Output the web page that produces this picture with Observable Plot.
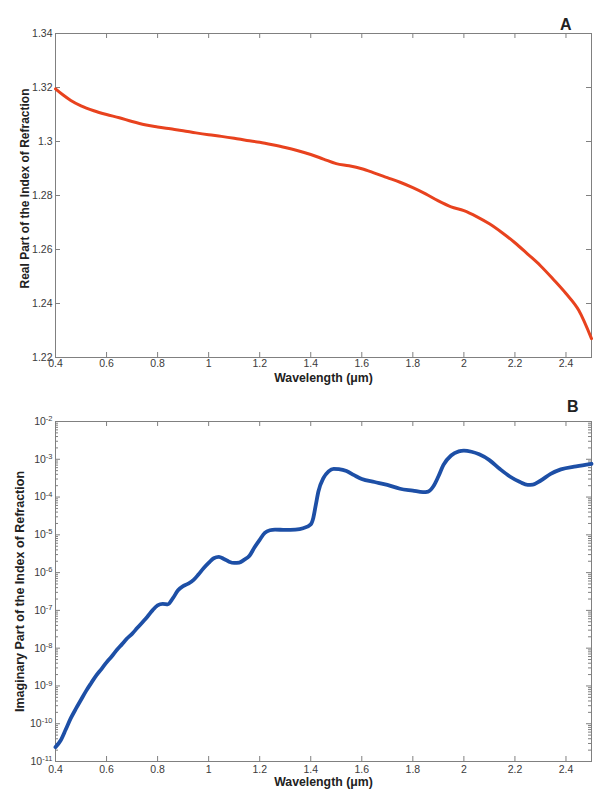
<!DOCTYPE html>
<html>
<head>
<meta charset="utf-8">
<script src="https://cdn.jsdelivr.net/npm/d3@7"></script>
<script src="https://cdn.jsdelivr.net/npm/@observablehq/plot@0.6"></script>
<style>
  html, body { margin: 0; padding: 0; background: #fff; }
  #chart { width: 594px; height: 792px; }
  #chart svg { display: block; }
</style>
</head>
<body>
<div id="chart"></div>
<script>
// ---------- Data ----------
const wavelengthA = [0.40,0.43,0.46,0.50,0.55,0.60,0.65,0.70,0.75,0.80,0.85,0.90,0.95,1.00,1.05,1.10,1.15,1.20,1.25,1.30,1.35,1.40,1.45,1.50,1.55,1.60,1.65,1.70,1.75,1.80,1.85,1.90,1.95,2.00,2.05,2.10,2.15,2.20,2.25,2.30,2.35,2.40,2.45,2.50];
const realIndex = [1.3195,1.3172,1.3152,1.3132,1.3114,1.3100,1.3088,1.3074,1.3062,1.3054,1.3047,1.3040,1.3032,1.3025,1.3019,1.3012,1.3004,1.2997,1.2988,1.2978,1.2966,1.2952,1.2935,1.2918,1.2910,1.2899,1.2883,1.2866,1.2849,1.2829,1.2806,1.2780,1.2758,1.2744,1.2722,1.2695,1.2662,1.2625,1.2583,1.2540,1.2490,1.2437,1.2375,1.2270];

const wavelengthB = [0.400,0.420,0.440,0.460,0.480,0.500,0.520,0.540,0.560,0.580,0.600,0.620,0.640,0.660,0.680,0.700,0.720,0.740,0.760,0.780,0.800,0.820,0.840,0.860,0.880,0.900,0.920,0.940,0.960,0.980,1.000,1.020,1.040,1.060,1.080,1.100,1.120,1.140,1.160,1.180,1.200,1.220,1.240,1.260,1.300,1.340,1.370,1.400,1.410,1.420,1.430,1.450,1.470,1.490,1.510,1.540,1.570,1.600,1.650,1.700,1.750,1.800,1.840,1.860,1.880,1.900,1.920,1.950,1.980,2.000,2.030,2.060,2.100,2.140,2.180,2.220,2.250,2.270,2.300,2.340,2.380,2.440,2.500];
const imagIndex = [2.4e-11,3.6e-11,7e-11,1.4e-10,2.5e-10,4.3e-10,7.4e-10,1.2e-9,1.9e-9,2.8e-9,4.2e-9,6e-9,8.9e-9,1.26e-8,1.8e-8,2.4e-8,3.4e-8,4.8e-8,6.8e-8,1e-7,1.35e-7,1.48e-7,1.45e-7,2.1e-7,3.4e-7,4.4e-7,5.1e-7,6.3e-7,8.9e-7,1.3e-6,1.8e-6,2.4e-6,2.6e-6,2.3e-6,1.95e-6,1.8e-6,1.85e-6,2.2e-6,2.8e-6,4.7e-6,7.4e-6,1.12e-5,1.32e-5,1.38e-5,1.35e-5,1.38e-5,1.5e-5,1.9e-5,2.8e-5,6.3e-5,1.4e-4,3.2e-4,4.8e-4,5.6e-4,5.5e-4,4.9e-4,3.8e-4,3.0e-4,2.5e-4,2.1e-4,1.66e-4,1.48e-4,1.35e-4,1.4e-4,1.9e-4,3.5e-4,7.1e-4,1.26e-3,1.62e-3,1.7e-3,1.58e-3,1.35e-3,9.5e-4,5.6e-4,3.5e-4,2.5e-4,2.1e-4,2.14e-4,2.7e-4,4.1e-4,5.4e-4,6.5e-4,7.6e-4];

const xTicks = [0.4,0.6,0.8,1.0,1.2,1.4,1.6,1.8,2.0,2.2,2.4];
const yTicksA = [1.22,1.24,1.26,1.28,1.30,1.32,1.34];
const decadeExponents = [-11,-10,-9,-8,-7,-6,-5,-4,-3,-2];
const minorMultipliers = [2,3,4,5,6,7,8,9];

const xLabel = "Wavelength (\u03bcm)";
const yLabelA = "Real Part of the Index of Refraction";
const yLabelB = "Imaginary Part of the Index of Refraction";

// ---------- Shared style ----------
const W = 594;
const frameColor = "#808080";
const tickTextColor = "#3a3a3a";
const font = "'Liberation Sans', Arial, Helvetica, sans-serif";
const fmtX = d => String(+d.toFixed(1));

const dataA = wavelengthA.map((w, i) => ({w, n: realIndex[i]}));
const dataB = wavelengthB.map((w, i) => ({w, k: imagIndex[i]}));

const container = document.getElementById("chart");

// ---------- Panel A ----------
{
  const H = 390, mt = 33, mb = 33, ml = 55, mr = 3;
  const ph = H - mt - mb, pw = W - ml - mr;
  const plot = Plot.plot({
    width: W, height: H,
    marginTop: mt, marginBottom: mb, marginLeft: ml, marginRight: mr,
    style: {fontFamily: font, fontSize: "10.5px", background: "#fff", overflow: "visible"},
    x: {domain: [0.4, 2.5]},
    y: {domain: [1.22, 1.34]},
    marks: [
      Plot.frame({stroke: frameColor}),
      Plot.tickX(xTicks, {x: d => d, insetTop: ph - 5, stroke: frameColor}),
      Plot.tickX(xTicks, {x: d => d, insetBottom: ph - 5, stroke: frameColor}),
      Plot.tickY(yTicksA, {y: d => d, insetRight: pw - 5, stroke: frameColor}),
      Plot.tickY(yTicksA, {y: d => d, insetLeft: pw - 5, stroke: frameColor}),
      Plot.axisX({ticks: xTicks, tickSize: 0, tickPadding: 2, tickFormat: fmtX, label: null, color: tickTextColor}),
      Plot.axisY({ticks: yTicksA, tickSize: 0, tickPadding: 3, tickFormat: d => String(+d.toFixed(2)), label: null, color: tickTextColor}),
      Plot.line(dataA, {x: "w", y: "n", stroke: "#e8421e", strokeWidth: 3, curve: "monotone-x"}),
      Plot.text([xLabel], {frameAnchor: "bottom", dy: 24, fontWeight: "bold", fontSize: 12.3, fill: "#222"}),
      Plot.text([yLabelA], {frameAnchor: "left", textAnchor: "middle", dx: -30, dy: -7, rotate: -90, fontWeight: "bold", fontSize: 12, fill: "#222"}),
      Plot.text(["A"], {frameAnchor: "top-right", dx: -20, dy: -15, fontWeight: "bold", fontSize: 16, fill: "#222"})
    ]
  });
  container.appendChild(plot);
}

// ---------- Panel B ----------
{
  const H = 402, mt = 31, mb = 31, ml = 55, mr = 3;
  const ph = H - mt - mb, pw = W - ml - mr;
  const decades = decadeExponents.map(e => Math.pow(10, e));
  const minors = [];
  decadeExponents.slice(0, -1).forEach(e => minorMultipliers.forEach(m => minors.push(m * Math.pow(10, e))));
  const plot = Plot.plot({
    width: W, height: H,
    marginTop: mt, marginBottom: mb, marginLeft: ml, marginRight: mr,
    style: {fontFamily: font, fontSize: "10.5px", background: "#fff", overflow: "visible"},
    x: {domain: [0.4, 2.5]},
    y: {type: "log", domain: [1e-11, 1e-2]},
    marks: [
      Plot.frame({stroke: frameColor}),
      Plot.tickX(xTicks, {x: d => d, insetTop: ph - 5, stroke: frameColor}),
      Plot.tickX(xTicks, {x: d => d, insetBottom: ph - 5, stroke: frameColor}),
      Plot.tickY(decades, {y: d => d, insetRight: pw - 5, stroke: frameColor}),
      Plot.tickY(decades, {y: d => d, insetLeft: pw - 5, stroke: frameColor}),
      Plot.tickY(minors, {y: d => d, insetRight: pw - 3, stroke: frameColor}),
      Plot.tickY(minors, {y: d => d, insetLeft: pw - 3, stroke: frameColor}),
      Plot.axisX({ticks: xTicks, tickSize: 0, tickPadding: 4, tickFormat: fmtX, label: null, color: tickTextColor}),
      Plot.axisY({ticks: decades, tickSize: 0, tickPadding: 3, tickFormat: d => "10^" + Math.round(Math.log10(d)), label: null, color: tickTextColor}),
      Plot.line(dataB, {x: "w", y: "k", stroke: "#1d4fa6", strokeWidth: 3.8, curve: "monotone-x"}),
      Plot.text([xLabel], {frameAnchor: "bottom", dy: 24, fontWeight: "bold", fontSize: 12.3, fill: "#222"}),
      Plot.text([yLabelB], {frameAnchor: "left", textAnchor: "middle", dx: -36, rotate: -90, fontWeight: "bold", fontSize: 12.5, fill: "#222"}),
      Plot.text(["B"], {frameAnchor: "top-right", dx: -13, dy: -21, fontWeight: "bold", fontSize: 16, fill: "#222"})
    ]
  });
  // superscript exponents on the log tick labels
  d3.select(plot).selectAll('g[aria-label="y-axis tick label"] text').each(function () {
    const s = this.textContent;
    if (!s.includes("^")) return;
    const [base, exp] = s.split("^");
    const t = d3.select(this);
    t.text(null);
    t.append("tspan").text(base);
    t.append("tspan").attr("dy", "-0.5em").attr("font-size", "7.5px").text(exp);
  });
  container.appendChild(plot);
}
</script>
</body>
</html>
